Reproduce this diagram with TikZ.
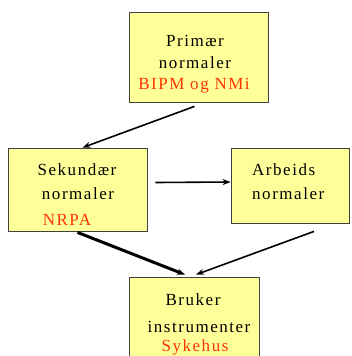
\documentclass[tikz,border=0pt]{standalone}
\usepackage{fontspec}
\setmainfont[LetterSpace=9]{Liberation Serif}
\usepackage{xcolor}
\usepackage{tikz}
\usetikzlibrary{arrows.meta,positioning}
\definecolor{boxyellow}{RGB}{255,255,153}
\definecolor{labelred}{RGB}{255,51,0}

\begin{document}
\begin{tikzpicture}[x=1pt,y=-1pt,
  level/.style={rectangle,draw=black!75,line width=.8pt,fill=boxyellow,
                inner sep=0pt},
  txt/.style={font=\fontsize{17}{20}\selectfont,inner sep=0pt,anchor=base},
  lab/.style={txt,text=labelred},
  edge/.style={-{Stealth[length=8pt,width=6pt]},line width=1.6pt},
  thickedge/.style={edge,line width=3pt}]
\useasboundingbox (0,0) rectangle (351,356);
\node[level,minimum width=139pt,minimum height=90pt] (prim) at (198.5,57) {};
\node[level,minimum width=139pt,minimum height=83pt] (sek) at (77.5,189.5) {};
\node[level,minimum width=118pt,minimum height=75pt] (arb) at (290,185.5) {};
\node[level,minimum width=130pt,minimum height=90pt] (bruk) at (194,322) {};
\node[txt] (primt1) at (195,46) {Primær};
\node[txt] (primt2) at (195,68) {normaler};
\node[lab] (priml) at (194,89) {BIPM og NMi};
\node[txt] (sekt1) at (77,175) {Sekundær};
\node[txt] (sekt2) at (78,199) {normaler};
\node[lab] (sekl) at (67,225) {NRPA};
\node[txt,anchor=base west] (arbt1) at (252,175) {Arbeids};
\node[txt,anchor=base west] (arbt2) at (252,199) {normaler};
\node[txt] (brukt1) at (193,305) {Bruker};
\node[txt] (brukt2) at (199,332) {instrumenter};
\node[lab] (brukl) at (195,351) {Sykehus};
\draw[edge] ([shift={(-4pt,-4pt)}]prim.south)--([xshift=5pt]sek.north);
\draw[edge] ([shift={(8pt,7pt)}]sek.east)--([yshift=3.5pt]arb.west);
\draw[thickedge] ([yshift=-1pt]sek.south)--([shift={(-9pt,2pt)}]bruk.north);
\draw[edge] ([shift={(24pt,-8pt)}]arb.south)--([shift={(2pt,2pt)}]bruk.north);
\end{tikzpicture}
\end{document}
